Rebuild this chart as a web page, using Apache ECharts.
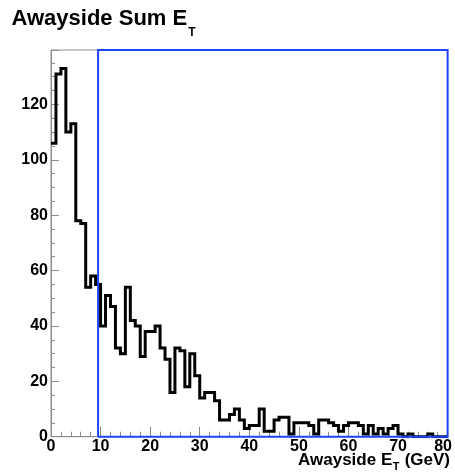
<!DOCTYPE html>
<html><head><meta charset="utf-8">
<script src="https://cdn.jsdelivr.net/npm/echarts@6/dist/echarts.min.js"></script>
<style>html,body{margin:0;padding:0;background:#fff}#c{width:455px;height:475px}</style>
</head><body><div id="c"></div>
<script>
// ---- data ----
const binLow = 0;
const binWidth = 1;
const counts = [
  106,131,133,110,113,78,77,54,58,55,
  40,51,47,32,30,54,42,40,29,38,
  38,40,32,28,16,32,31,18,30,22,
  14,16,16,13,6,6,8,10,6,3,
  4,4,10,2,2,6,7,7,1,5,
  5,5,4,1,6,6,5,4,2,4,
  5,5,4,1,4,1,3,1,3,4,
  1,0,1,0,0,0,1,0,0,0
];
const xRange = [0, 80];
const xTickStep = 10;
const yRange = [0, 139.65];
const yTickStep = 20;
const yLabelMax = 120;
const boxX = [9.5, 80];
const boxY = [0, 139.65];
const titleMain = 'Awayside Sum E';
const titleSub = 'T';
const axisMain = 'Awayside E';
const axisSub = 'T';
const axisTail = ' (GeV)';

// ---- build ----
const FONT = '"Liberation Sans", Arial, Helvetica, sans-serif';
const histData = counts.map((c, i) => [binLow + i * binWidth, c]);
histData.push([binLow + counts.length * binWidth, counts[counts.length - 1]]);
const boxData = [[boxX[0], boxY[0]], [boxX[0], boxY[1]], [boxX[1], boxY[1]], [boxX[1], boxY[0]], [boxX[0], boxY[0]]];

const cv = document.createElement('canvas').getContext('2d');
function tw(t, size) { cv.font = 'bold ' + size + 'px ' + FONT; return cv.measureText(t).width; }

const tX = 11.5;
const tW = tw(titleMain, 22);
const aR = 450;
const aTailW = tw(axisTail, 17), aSubW = tw(axisSub, 11), aMainW = tw(axisMain, 17);
const aTailX = aR - aTailW, aSubX = aTailX - aSubW - 0.5, aMainX = aSubX - aMainW - 0.5;

const gray = '#8c8c8c';
const chart = echarts.init(document.getElementById('c'), null, {renderer: 'canvas'});
chart.setOption({
  animation: false,
  backgroundColor: '#fff',
  grid: {left: 51, right: 5, top: 50, bottom: 38.3, show: true, borderColor: gray, borderWidth: 1},
  xAxis: {
    type: 'value', min: xRange[0], max: xRange[1], interval: xTickStep,
    axisLine: {show: true, lineStyle: {color: gray, width: 1}},
    axisTick: {show: true, inside: true, length: 10, lineStyle: {color: gray, width: 1}},
    minorTick: {show: true, splitNumber: 5, length: 5, lineStyle: {color: gray, width: 1}},
    splitLine: {show: false},
    axisLabel: {
      color: '#000', fontWeight: 'bold', fontSize: 16, fontFamily: FONT, margin: 2,
      formatter: v => v === xRange[1] ? '{last|' + v + '}' : String(v),
      rich: {last: {color: '#000', fontWeight: 'bold', fontSize: 16, fontFamily: FONT, padding: [0, 9, 0, 0]}}
    }
  },
  yAxis: {
    type: 'value', min: yRange[0], max: yRange[1], interval: yTickStep,
    axisLine: {show: true, lineStyle: {color: gray, width: 1}},
    axisTick: {show: true, inside: true, length: 8, lineStyle: {color: gray, width: 1}},
    minorTick: {show: true, splitNumber: 4, length: 4, lineStyle: {color: gray, width: 1}},
    splitLine: {show: false},
    axisLabel: {
      color: '#000', fontWeight: 'bold', fontSize: 16, fontFamily: FONT, margin: 3,
      formatter: v => (v % yTickStep === 0 && v <= yLabelMax) ? String(v) : ''
    }
  },
  series: [
    {type: 'line', data: histData, step: 'end', symbol: 'none', z: 2,
     lineStyle: {color: '#000', width: 3, join: 'miter'}},
    {type: 'line', data: boxData, symbol: 'none', clip: false, z: 3,
     lineStyle: {color: '#1f44ff', width: 2, join: 'miter'}}
  ],
  graphic: [
    {type: 'text', x: tX, y: 19, style: {text: titleMain, font: 'bold 22px ' + FONT, fill: '#000', textAlign: 'left', textVerticalAlign: 'middle'}},
    {type: 'text', x: tX + tW + 1, y: 33, style: {text: titleSub, font: 'bold 12px ' + FONT, fill: '#000', textAlign: 'left', textVerticalAlign: 'middle'}},
    {type: 'text', x: aMainX, y: 460, style: {text: axisMain, font: 'bold 17px ' + FONT, fill: '#000', textAlign: 'left', textVerticalAlign: 'middle'}},
    {type: 'text', x: aSubX, y: 467, style: {text: axisSub, font: 'bold 11px ' + FONT, fill: '#000', textAlign: 'left', textVerticalAlign: 'middle'}},
    {type: 'text', x: aTailX, y: 460, style: {text: axisTail, font: 'bold 17px ' + FONT, fill: '#000', textAlign: 'left', textVerticalAlign: 'middle'}}
  ]
});
</script>
</body></html>
